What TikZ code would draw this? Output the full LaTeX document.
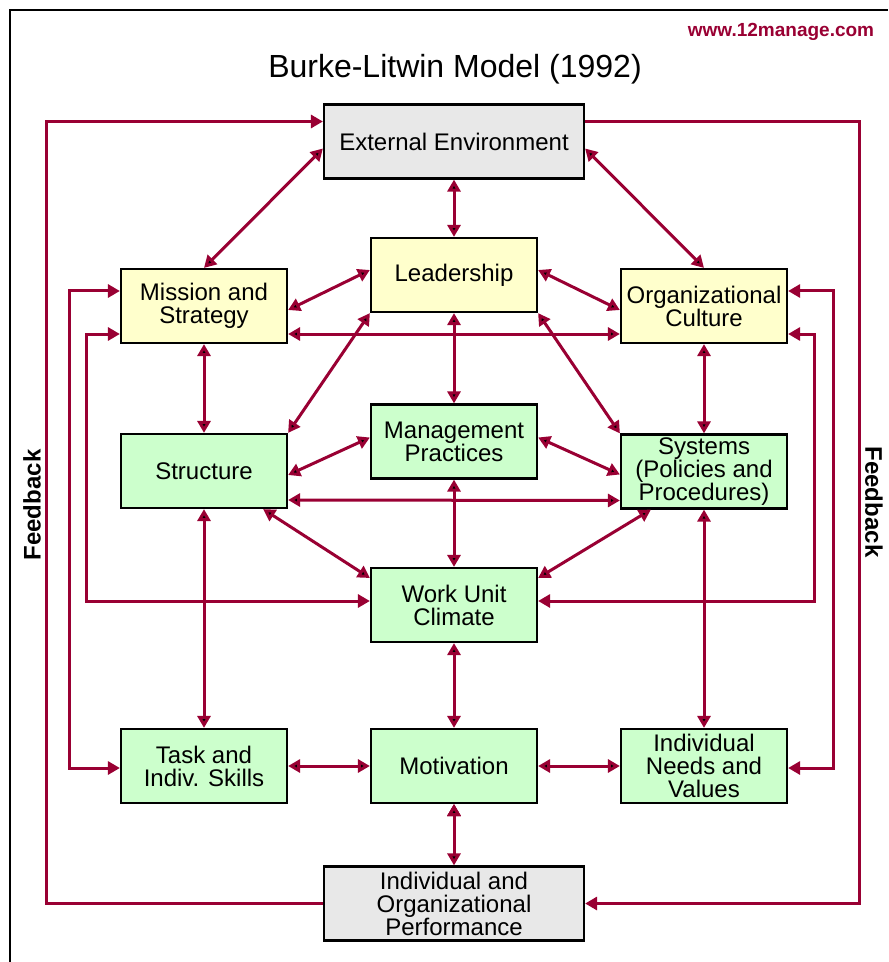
\documentclass[tikz,border=0pt]{standalone}
\usepackage{fontspec}
\setmainfont{Liberation Sans}
\usetikzlibrary{arrows.meta,calc}
\definecolor{bl}{RGB}{153,0,51}
\definecolor{grey}{RGB}{232,232,232}
\definecolor{yel}{RGB}{255,255,204}
\definecolor{grn}{RGB}{204,255,204}
\tikzset{
    box/.style =    {rectangle,
                    draw=black,
                    text=black,
                    line width=1.1pt,
                    inner sep=0.5pt,
                    align=center,
                    font=\fontsize{12}{11.5}\selectfont,
                    minimum width=83pt,
                    minimum height=37pt},
    gbox/.style =   {box,
                    fill=grey,
                    minimum width=130pt},
    ybox/.style =   {box,
                    fill=yel},
    lbox/.style =   {box,
                    fill=grn},
    link/.style =   {draw=bl,
                    line width=1.5pt},
    -,
    >={Triangle[length=6pt,width=6.5pt]}}

\begin{document}
\begin{tikzpicture}[x=0.5pt,y=-0.5pt]
        \useasboundingbox (0,0) rectangle (888,962);
        \draw [line width=1.1pt] (10,962) |- (888,10);
        \node []   (url)   at (781,32)  {\color{bl}\fontsize{9.5}{10}\selectfont\bfseries www.12manage.com};
        \node []   (title) at (455,69)  {\fontsize{16}{18}\selectfont Burke-Litwin Model (1992)};
        \node [rotate=90]  (fbl) at (32,505) {\fontsize{12}{12}\selectfont\bfseries Feedback};
        \node [rotate=-90] (fbr) at (874,502) {\fontsize{12}{12}\selectfont\bfseries Feedback};
        % boxes
        \node[gbox]   (ext)     at (454,141.5) {External Environment};
        \node[ybox]   (lead)    at (454,275)   {Leadership};
        \node[ybox]   (mis)     at (204,306)   {Mission and\\Strategy};
        \node[ybox]   (cult)    at (704,306)   {Organizational\\Culture};
        \node[lbox]   (struc)   at (204,471)   {Structure};
        \node[lbox]   (mgmt)    at (454,441.5) {Management\\Practices};
        \node[lbox]   (sys)     at (704,471.5) {Systems\\(Policies and\\Procedures)};
        \node[lbox]   (climate) at (454,605)   {Work Unit\\Climate};
        \node[lbox]   (task)    at (204,766)   {Task and\\Indiv. Skills};
        \node[lbox]   (motiv)   at (454,766)   {Motivation};
        \node[lbox]   (needs)   at (704,766)   {Individual\\Needs and\\Values};
        \node[gbox]   (perf)    at (454,903.5) {Individual and\\Organizational\\Performance};
        % straight links
        \path [link,<->] ($(ext.west)+(0,7)$)      edge []  (mis.north)
                         ($(ext.east)+(0,7)$)      edge []  (cult.north)
                         (ext.south)               edge []  (lead.north)
                         ($(lead.west)+(0,-5)$)    edge []  ($(mis.east)+(0,4)$)
                         ($(lead.east)+(0,-5)$)    edge []  ($(cult.west)+(0,4)$)
                         ($(mis.east)+(0,28)$)     edge []  ($(cult.west)+(0,28)$)
                         (lead.south west)         edge []  (struc.north east)
                         (lead.south east)         edge []  (sys.north west)
                         (lead.south)              edge []  (mgmt.north)
                         (mis.south)               edge []  (struc.north)
                         (cult.south)              edge []  (sys.north)
                         ($(mgmt.west)+(0,-4)$)    edge []  ($(struc.east)+(0,4)$)
                         ($(mgmt.east)+(0,-4)$)    edge []  ($(sys.west)+(0,3)$)
                         ($(struc.east)+(0,29)$)   edge []  ($(sys.west)+(0,29)$)
                         ($(struc.south east)+(-25,0)$) edge [] ($(climate.west)+(0,-27)$)
                         ($(sys.south west)+(31,0)$)    edge [] ($(climate.east)+(0,-27)$)
                         (mgmt.south)              edge []  (climate.north)
                         (struc.south)             edge []  (task.north)
                         (sys.south)               edge []  (needs.north)
                         (climate.south)           edge []  (motiv.north)
                         (task.east)               edge []  (motiv.west)
                         (motiv.east)              edge []  (needs.west)
                         (motiv.south)             edge []  (perf.north);
        % elbow links
        \draw [link,<->] ($(mis.west)+(0,-15)$)  -- ++(-50,0) |- ($(task.west)+(0,2)$);
        \draw [link,<->] ($(mis.west)+(0,28)$)   -- ++(-33,0) |- ($(climate.west)+(0,-4)$);
        \draw [link,<->] ($(cult.east)+(0,-15)$) -- ++(45,0)  |- ($(needs.east)+(0,2)$);
        \draw [link,<->] ($(cult.east)+(0,28)$)  -- ++(26,0)  |- ($(climate.east)+(0,-4)$);
        % feedback
        \draw [link,->]  (perf.west) -- ++(-276,0) |- ($(ext.west)+(0,-20)$);
        \draw [link,->]  ($(ext.east)+(0,-20)$) -- ++(274,0) |- (perf.east);
\end{tikzpicture}
\end{document}
